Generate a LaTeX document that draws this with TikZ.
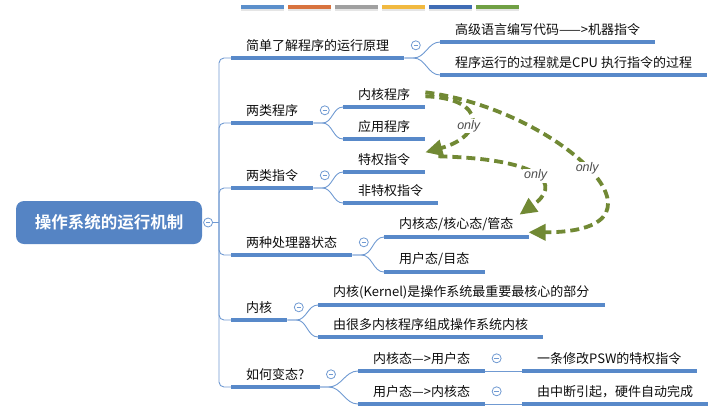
\documentclass[tikz,border=0pt]{standalone}
\usepackage{fontspec}
\setmainfont{Noto Sans CJK SC}[BoldFont={Noto Sans CJK SC Bold}]
\newfontfamily\onlyfont{Liberation Sans}
\usetikzlibrary{positioning,arrows.meta}
\definecolor{rootblue}{RGB}{85,132,196}
\definecolor{lineblue}{RGB}{88,137,201}
\definecolor{linkblue}{RGB}{112,154,210}
\definecolor{olive}{RGB}{113,137,52}
\definecolor{barblue}{RGB}{91,143,203}
\definecolor{barorange}{RGB}{216,115,62}
\definecolor{bargray}{RGB}{160,160,160}
\definecolor{baryellow}{RGB}{241,185,64}
\definecolor{bardark}{RGB}{63,108,181}
\definecolor{bargreen}{RGB}{112,160,68}
\begin{document}
\begin{tikzpicture}[x=1pt, y=-1pt, >={Triangle[length=17pt,width=16pt]},
    root/.style={fill=rootblue, rounded corners=8pt, minimum width=186pt, minimum height=43pt,
        text=white, font=\fontsize{16.5}{18}\selectfont\bfseries},
    uline/.style={draw=lineblue, line width=3.2pt},
    topic/.style={anchor=south west, inner xsep=15pt, inner ysep=0pt, minimum height=25pt,
        text=black!95, font=\fontsize{13}{15}\selectfont,
        append after command={(\tikzlastnode.south west) edge[uline] (\tikzlastnode.south east)}},
    link/.style={draw=linkblue, line width=0.9pt},
    collapse/.style={circle, draw=linkblue, fill=white, line width=0.8pt, minimum size=9pt, inner sep=0pt,
        path picture={\draw[linkblue, line width=0.8pt] ([xshift=-2.3pt]path picture bounding box.center)
            -- ([xshift=2.3pt]path picture bounding box.center);}},
    only/.style={draw=olive, line width=3.8pt, dash pattern=on 9pt off 5pt, ->},
    tag/.style={fill=white, inner sep=1pt, text=black!70, font=\onlyfont\itshape\fontsize{12.5}{14}\selectfont},
    bar/.style={fill=#1}]
    \useasboundingbox (0,0) rectangle (727,416);
    \fill[black!10] (241,9) rectangle (284,11);
    \fill[black!10] (288,9) rectangle (331,11);
    \fill[black!10] (335,9) rectangle (378,11);
    \fill[black!10] (382,9) rectangle (425,11);
    \fill[black!10] (429,9) rectangle (472,11);
    \fill[black!10] (476,9) rectangle (519,11);
    \fill[bar=barblue] (241,5) rectangle (284,9);
    \fill[bar=barorange] (288,5) rectangle (331,9);
    \fill[bar=bargray] (335,5) rectangle (378,9);
    \fill[bar=baryellow] (382,5) rectangle (425,9);
    \fill[bar=bardark] (429,5) rectangle (472,9);
    \fill[bar=bargreen] (476,5) rectangle (519,9);
    \node[root] (R) at (109, 222.5) {操作系统的运行机制};
    \node[collapse, right=1pt of R] (RC) {};
    \coordinate[right=6pt of RC] (H);
    \node[topic] (B1) at (231, 58) {简单了解程序的运行原理};
    \node[topic] (B2) at (231, 123) {两类程序};
    \node[topic] (B3) at (231, 188) {两类指令};
    \node[topic] (B4) at (231, 255) {两种处理器状态};
    \node[topic] (B5) at (231, 320) {内核};
    \node[topic] (B6) at (231, 387) {如何变态?};
    \node[topic] (C11) at (440, 42) {高级语言编写代码——>机器指令};
    \node[topic] (C12) at (440, 75) {程序运行的过程就是CPU 执行指令的过程};
    \node[topic] (C21) at (343, 107) {内核程序};
    \node[topic] (C22) at (343, 139) {应用程序};
    \node[topic] (C31) at (343, 172) {特权指令};
    \node[topic] (C32) at (343, 203) {非特权指令};
    \node[topic] (C41) at (384, 237) {内核态/核心态/管态};
    \node[topic] (C42) at (384, 272) {用户态/目态};
    \node[topic] (C51) at (318, 305) {内核(Kernel)是操作系统最重要最核心的部分};
    \node[topic] (C52) at (318, 337) {由很多内核程序组成操作系统内核};
    \node[topic] (C61) at (358, 371) {内核态—>用户态};
    \node[topic] (C62) at (358, 404) {用户态—>内核态};
    \node[topic] (D61) at (522, 371) {一条修改PSW的特权指令};
    \node[topic] (D62) at (522, 404) {由中断引起，硬件自动完成};
    \draw[link] (RC) -- (H);
    \draw[link, rounded corners=5pt] (H) |- (B1.south west);
    \draw[link, rounded corners=5pt] (H) |- (B2.south west);
    \draw[link, rounded corners=5pt] (H) |- (B3.south west);
    \draw[link, rounded corners=5pt] (H) |- (B4.south west);
    \draw[link, rounded corners=5pt] (H) |- (B5.south west);
    \draw[link, rounded corners=5pt] (H) |- (B6.south west);
    \draw[link] (B1.south east) -- ++(9,0) to[out=0,in=180] (C11.south west);
    \draw[link] (B1.south east) -- ++(9,0) to[out=0,in=180] (C12.south west);
    \draw[link] (B2.south east) -- ++(9,0) to[out=0,in=180] (C21.south west);
    \draw[link] (B2.south east) -- ++(9,0) to[out=0,in=180] (C22.south west);
    \draw[link] (B3.south east) -- ++(9,0) to[out=0,in=180] (C31.south west);
    \draw[link] (B3.south east) -- ++(9,0) to[out=0,in=180] (C32.south west);
    \draw[link] (B4.south east) -- ++(9,0) to[out=0,in=180] (C41.south west);
    \draw[link] (B4.south east) -- ++(9,0) to[out=0,in=180] (C42.south west);
    \draw[link] (B5.south east) -- ++(9,0) to[out=0,in=180] (C51.south west);
    \draw[link] (B5.south east) -- ++(9,0) to[out=0,in=180] (C52.south west);
    \draw[link] (B6.south east) -- ++(9,0) to[out=0,in=180] (C61.south west);
    \draw[link] (B6.south east) -- ++(9,0) to[out=0,in=180] (C62.south west);
    \draw[link] (C61.south east) -- (D61.south west);
    \draw[link] (C62.south east) -- (D62.south west);
    \node[collapse, right=6.5pt of B1] (B1c) {};
    \node[collapse, right=6.5pt of B2] (B2c) {};
    \node[collapse, right=6.5pt of B3] (B3c) {};
    \node[collapse, right=6.5pt of B4] (B4c) {};
    \node[collapse, right=6.5pt of B5] (B5c) {};
    \node[collapse, right=6.5pt of B6] (B6c) {};
    \node[collapse, right=6.5pt of C61] (C61c) {};
    \node[collapse, right=6.5pt of C62] (C62c) {};
    \draw[only] ([yshift=2pt]C21.east) .. controls +(133,17) and +(161,0) .. ([yshift=-8pt]C41.east)
        node[pos=.5, tag] {only};
    \draw[only] ([yshift=-2pt]C21.east) .. controls +(62,2) and +(59,-16) .. ([yshift=7pt]C31.east)
        node[pos=.6, tag] {only};
    \draw[only] ([xshift=13pt,yshift=3pt]C31.east) .. controls +(110,3) and +(41,-29) .. ([xshift=-9pt,yshift=-3pt]C41.north east)
        node[pos=.5, tag] {only};
\end{tikzpicture}
\end{document}
